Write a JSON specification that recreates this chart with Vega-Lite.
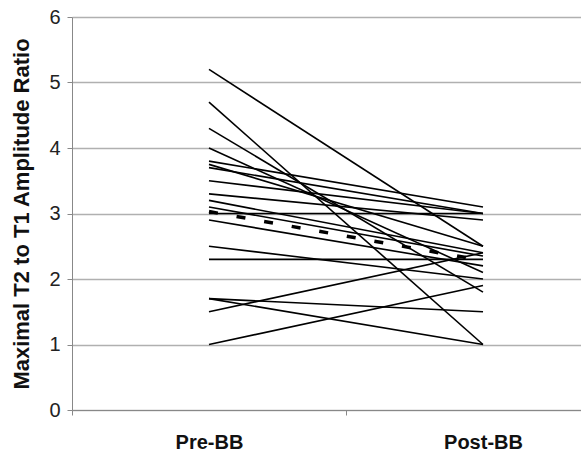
{
  "$schema": "https://vega.github.io/schema/vega-lite/v6.json",
  "width": 509,
  "height": 393,
  "autosize": "none",
  "padding": {"left": 72, "top": 17, "right": 0, "bottom": 45},
  "background": "white",
  "config": {
    "view": {"stroke": null},
    "font": "Liberation Sans"
  },
  "datasets": {
    "subjects": [
      {"id": 1, "phase": "Pre-BB", "value": 5.2}, {"id": 1, "phase": "Post-BB", "value": 2.5},
      {"id": 2, "phase": "Pre-BB", "value": 4.7}, {"id": 2, "phase": "Post-BB", "value": 1.0},
      {"id": 3, "phase": "Pre-BB", "value": 4.3}, {"id": 3, "phase": "Post-BB", "value": 1.8},
      {"id": 4, "phase": "Pre-BB", "value": 4.0}, {"id": 4, "phase": "Post-BB", "value": 2.1},
      {"id": 5, "phase": "Pre-BB", "value": 3.8}, {"id": 5, "phase": "Post-BB", "value": 3.1},
      {"id": 6, "phase": "Pre-BB", "value": 3.75}, {"id": 6, "phase": "Post-BB", "value": 2.5},
      {"id": 7, "phase": "Pre-BB", "value": 3.7}, {"id": 7, "phase": "Post-BB", "value": 3.0},
      {"id": 8, "phase": "Pre-BB", "value": 3.5}, {"id": 8, "phase": "Post-BB", "value": 3.0},
      {"id": 9, "phase": "Pre-BB", "value": 3.3}, {"id": 9, "phase": "Post-BB", "value": 2.9},
      {"id": 10, "phase": "Pre-BB", "value": 3.2}, {"id": 10, "phase": "Post-BB", "value": 2.4},
      {"id": 11, "phase": "Pre-BB", "value": 3.1}, {"id": 11, "phase": "Post-BB", "value": 2.35},
      {"id": 12, "phase": "Pre-BB", "value": 3.0}, {"id": 12, "phase": "Post-BB", "value": 3.0},
      {"id": 13, "phase": "Pre-BB", "value": 2.9}, {"id": 13, "phase": "Post-BB", "value": 2.2},
      {"id": 14, "phase": "Pre-BB", "value": 2.5}, {"id": 14, "phase": "Post-BB", "value": 2.0},
      {"id": 15, "phase": "Pre-BB", "value": 2.3}, {"id": 15, "phase": "Post-BB", "value": 2.3},
      {"id": 16, "phase": "Pre-BB", "value": 1.7}, {"id": 16, "phase": "Post-BB", "value": 1.5},
      {"id": 17, "phase": "Pre-BB", "value": 1.7}, {"id": 17, "phase": "Post-BB", "value": 1.0},
      {"id": 18, "phase": "Pre-BB", "value": 1.5}, {"id": 18, "phase": "Post-BB", "value": 2.4},
      {"id": 19, "phase": "Pre-BB", "value": 1.0}, {"id": 19, "phase": "Post-BB", "value": 1.9}
    ],
    "mean": [
      {"phase": "Pre-BB", "value": 3.03},
      {"phase": "Post-BB", "value": 2.28}
    ]
  },
  "encoding": {
    "x": {
      "field": "phase",
      "type": "nominal",
      "sort": ["Pre-BB", "Post-BB"],
      "bandPosition": 0.5,
      "scale": {"type": "band", "paddingInner": 0, "paddingOuter": 0, "range": [0, 548]},
      "axis": {
        "title": null,
        "labelAngle": 0,
        "labelFontSize": 20,
        "labelFontWeight": "bold",
        "labelColor": "#111",
        "labelPadding": 17,
        "tickBand": "extent",
        "tickSize": 5,
        "tickColor": "#888",
        "domainColor": "#888",
        "grid": false
      }
    },
    "y": {
      "field": "value",
      "type": "quantitative",
      "scale": {"domain": [0, 6], "nice": false, "zero": true},
      "axis": {
        "values": [0, 1, 2, 3, 4, 5, 6],
        "title": "Maximal T2 to T1 Amplitude Ratio",
        "titleFontSize": 22,
        "titleFontWeight": "bold",
        "titleColor": "#111",
        "titlePadding": 15,
        "labelFontSize": 20,
        "labelColor": "#222",
        "labelPadding": 7,
        "tickSize": 5,
        "tickColor": "#888",
        "domainColor": "#888",
        "grid": true,
        "gridColor": "#b0b0b0",
        "gridWidth": 1.5
      }
    }
  },
  "layer": [
    {
      "data": {"name": "subjects"},
      "mark": {"type": "line", "color": "#000", "strokeWidth": 1.6},
      "encoding": {"detail": {"field": "id", "type": "nominal"}}
    },
    {
      "data": {"name": "mean"},
      "mark": {"type": "line", "color": "#000", "strokeWidth": 3.5, "strokeDash": [9, 19]},
      "encoding": {}
    }
  ]
}
